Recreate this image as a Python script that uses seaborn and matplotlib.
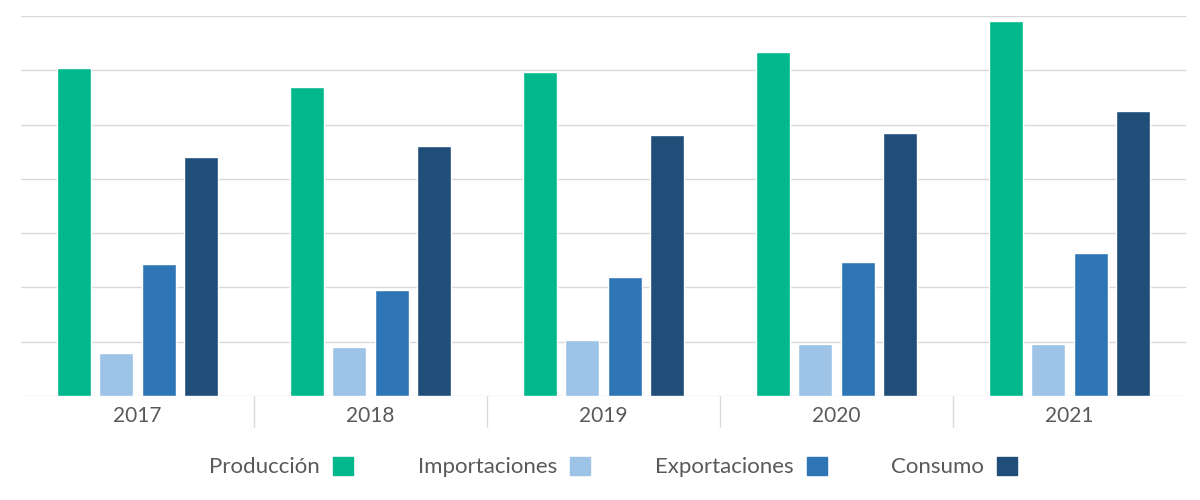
import matplotlib
matplotlib.use('Agg')
import matplotlib.pyplot as plt
import pandas as pd
import seaborn as sns

# Data (gridline step = 10 units, no axis labels shown)
years = ['2017', '2018', '2019', '2020', '2021']
series = ['Producción', 'Importaciones', 'Exportaciones', 'Consumo']
produccion = [60.5, 56.9, 59.7, 63.3, 69.0]
importaciones = [7.9, 9.0, 10.3, 9.5, 9.5]
exportaciones = [24.4, 19.5, 21.9, 24.7, 26.3]
consumo = [44.1, 46.0, 48.1, 48.5, 52.5]
colors = ['#00B88C', '#9DC3E6', '#2E75B6', '#1F4E79']

df = pd.DataFrame({
    'year': years * 4,
    'serie': [s for s in series for _ in years],
    'value': produccion + importaciones + exportaciones + consumo,
})

sns.set_style('white')
plt.rcParams['font.family'] = ['Lato', 'DejaVu Sans']

fig = plt.figure(figsize=(12, 5), dpi=100)
ax = fig.add_axes([0.0175, 0.208, 0.9708, 0.76])

sns.barplot(data=df, x='year', y='value', hue='serie', order=years,
            hue_order=series, palette=colors, width=0.728, gap=0.2,
            saturation=1, ax=ax, legend=False)

ax.set_ylim(0, 70)
ax.set_xlim(-0.5, 4.5)
ax.set_yticks(range(0, 71, 10))
ax.yaxis.grid(True, color='#d9d9d9', linewidth=1)
ax.set_axisbelow(True)
ax.tick_params(axis='y', left=False, labelleft=False)
ax.tick_params(axis='x', which='major', bottom=False, length=0, pad=7,
               labelsize=15, labelcolor='#595959')
# category separators below the baseline
ax.set_xticks([0.5, 1.5, 2.5, 3.5], minor=True)
ax.tick_params(axis='x', which='minor', bottom=True, length=22, width=1,
               color='#d9d9d9', direction='out')
ax.set_xlabel('')
ax.set_ylabel('')
for s in ax.spines.values():
  s.set_visible(False)

# Legend: label first, square marker after
handles = [plt.Rectangle((0, 0), 1, 1, color=c) for c in colors]
leg = fig.legend(handles, series, loc='center', bbox_to_anchor=(0.511, 0.066),
                 ncol=4, frameon=False, markerfirst=False, fontsize=16,
                 handlelength=0.9, handleheight=0.9, handletextpad=0.6,
                 columnspacing=2.9)
for t in leg.get_texts():
  t.set_color('#595959')

fig.savefig('out.png', dpi=100)
